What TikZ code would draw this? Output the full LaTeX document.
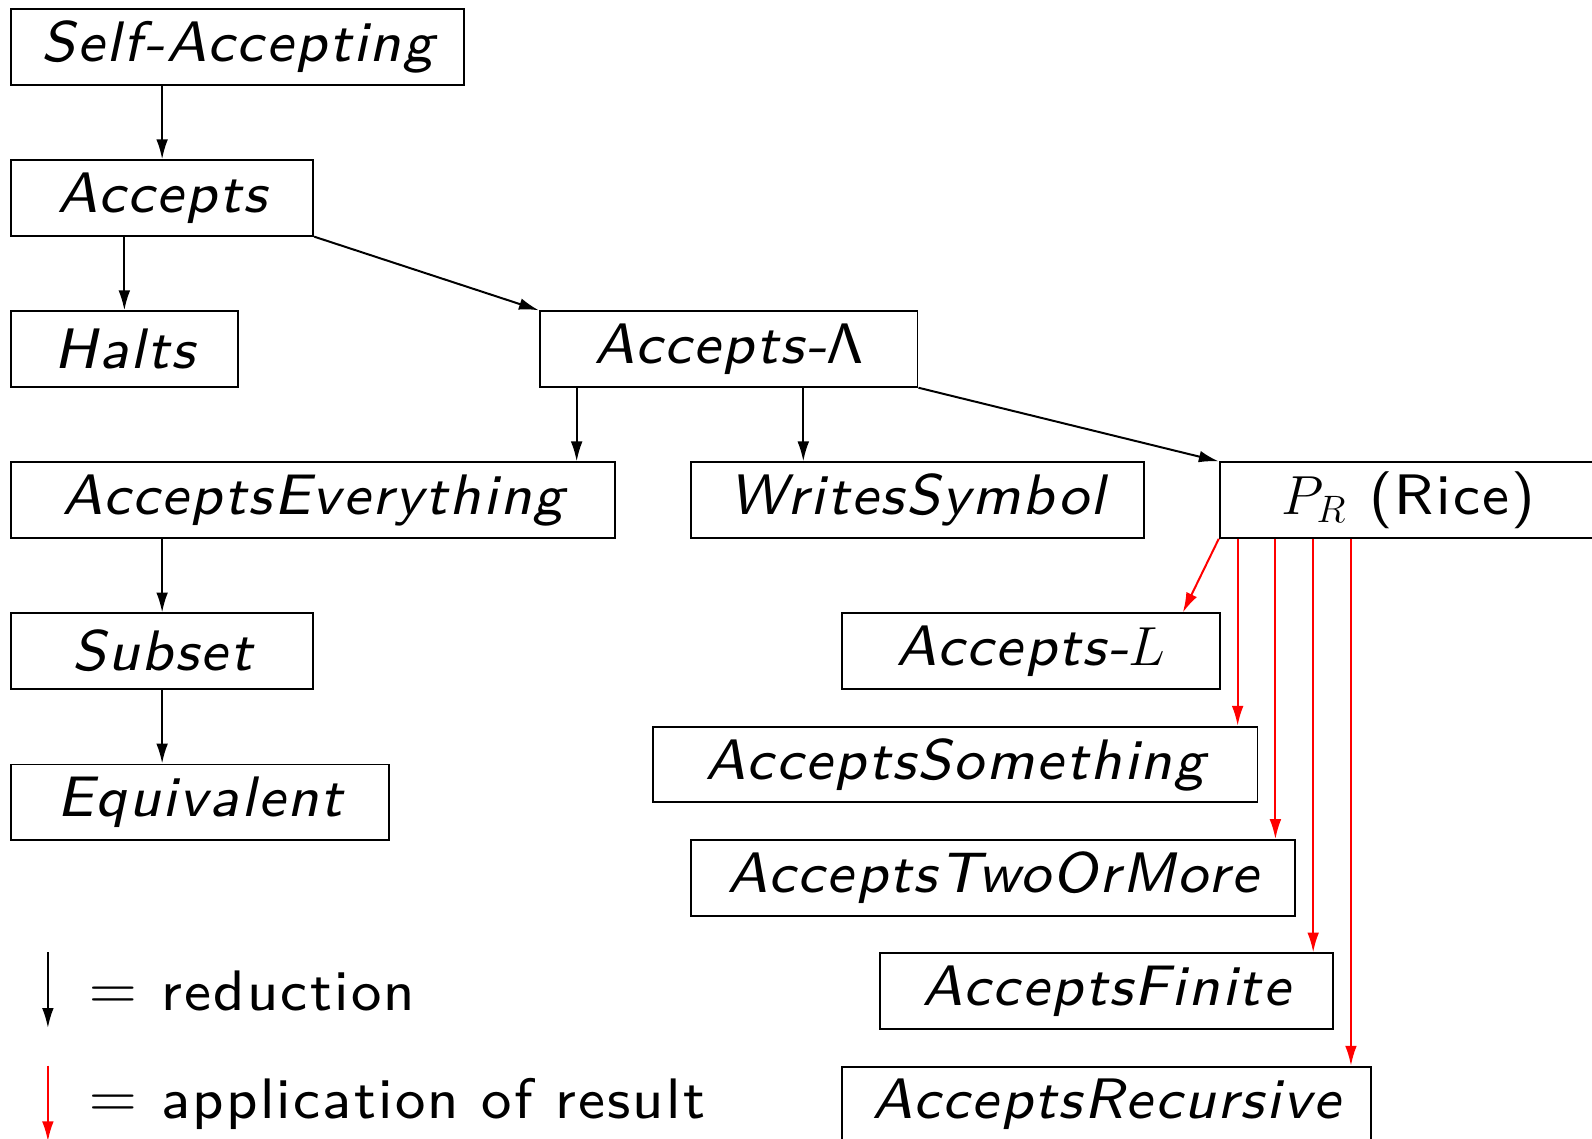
\documentclass[tikz,border=0pt]{standalone}
\usepackage{fontspec}
\usepackage{tikz}
\usetikzlibrary{arrows.meta,positioning}
\newfontfamily\slidesl{lmsans8-oblique}[Extension=.otf, LetterSpace=4]
\newfontfamily\slideup{lmsans8-regular}[Extension=.otf, LetterSpace=4]

\begin{document}
\begin{tikzpicture}[
        font=\fontsize{21.5}{26}\selectfont,
        problem/.style={draw, line width=0.7pt, inner sep=0pt, minimum height=1cm,
            anchor=north west, font=\fontsize{21.5}{26}\selectfont\slidesl},
        reduce/.style={-{Latex[length=7.5pt,width=4.4pt]}, line width=0.75pt},
        apply/.style={reduce, red},
        keytext/.style={anchor=base west, inner sep=0pt, font=\fontsize{21.5}{26}\selectfont\slideup}
    ]
        \useasboundingbox (-0.134,0.108) rectangle (20.941,-14.970);
        % undecidable problems
        \node[problem, minimum width=6cm] (selfacc) at (0,0) {Self-Accepting};
        \node[problem, minimum width=4cm] (accepts) at (0,-2) {Accepts};
        \node[problem, minimum width=3cm] (halts) at (0,-4) {Halts};
        \node[problem, minimum width=5cm] (acclambda) at (7,-4) {Accepts-{\slideup Λ}};
        \node[problem, minimum width=8cm] (acceverything) at (0,-6) {AcceptsEverything};
        \node[problem, minimum width=6cm] (writessym) at (9,-6) {WritesSymbol};
        \node[problem, minimum width=5cm] (rice) at (16,-6) {$P_R$ {\slideup(Rice)}};
        \node[problem, minimum width=4cm] (subset) at (0,-8) {Subset};
        \node[problem, minimum width=5cm] (equiv) at (0,-10) {Equivalent};
        \node[problem, minimum width=5cm] (accl) at (11,-8) {Accepts-$L$};
        \node[problem, minimum width=8cm] (accsome) at (8.5,-9.5) {AcceptsSomething};
        \node[problem, minimum width=8cm] (acctwo) at (9,-11) {AcceptsTwoOrMore};
        \node[problem, minimum width=6cm] (accfinite) at (11.5,-12.5) {AcceptsFinite};
        \node[problem, minimum width=7cm] (accrec) at (11,-14) {AcceptsRecursive};
        % reductions
        \draw[reduce] (accepts.north |- selfacc.south) -- (accepts.north);
        \draw[reduce] (halts.north |- accepts.south) -- (halts.north);
        \draw[reduce] (accepts.south east) -- (acclambda.north west);
        \draw[reduce] (acclambda.south west) ++(0.5,0) coordinate (ae) -- (ae |- acceverything.north);
        \draw[reduce] (acclambda.south west) ++(3.5,0) coordinate (ws) -- (ws |- writessym.north);
        \draw[reduce] (acclambda.south east) -- (rice.north west);
        \draw[reduce] (subset.north |- acceverything.south) -- (subset.north);
        \draw[reduce] (subset.south) -- (subset.south |- equiv.north);
        % Rice's theorem
        \draw[apply] (rice.south west) -- ([xshift=-5mm]accl.north east);
        \draw[apply] (rice.south west) ++(0.25,0) coordinate (r1) -- (r1 |- accsome.north);
        \draw[apply] (rice.south west) ++(0.75,0) coordinate (r2) -- (r2 |- acctwo.north);
        \draw[apply] (rice.south west) ++(1.25,0) coordinate (r3) -- (r3 |- accfinite.north);
        \draw[apply] (rice.south west) ++(1.75,0) coordinate (r4) -- (r4 |- accrec.north);
        % key
        \coordinate (keyredtop) at (0.5,-12.5);
        \coordinate (keyredbot) at (0.5,-13.5);
        \coordinate (keyapptop) at (0.5,-14);
        \coordinate (keyappbot) at (0.5,-15);
        \draw[reduce] (keyredtop) -- (keyredbot);
        \draw[apply] (keyapptop) -- (keyappbot);
        \node[keytext] (keyred) at (1.05,-13.27) {{\fontsize{26}{30}\selectfont$=$}\hspace{0.42em}reduction};
        \node[keytext] (keyapp) at (1.05,-14.70) {{\fontsize{26}{30}\selectfont$=$}\hspace{0.42em}application of result};
    \end{tikzpicture}
\end{document}
